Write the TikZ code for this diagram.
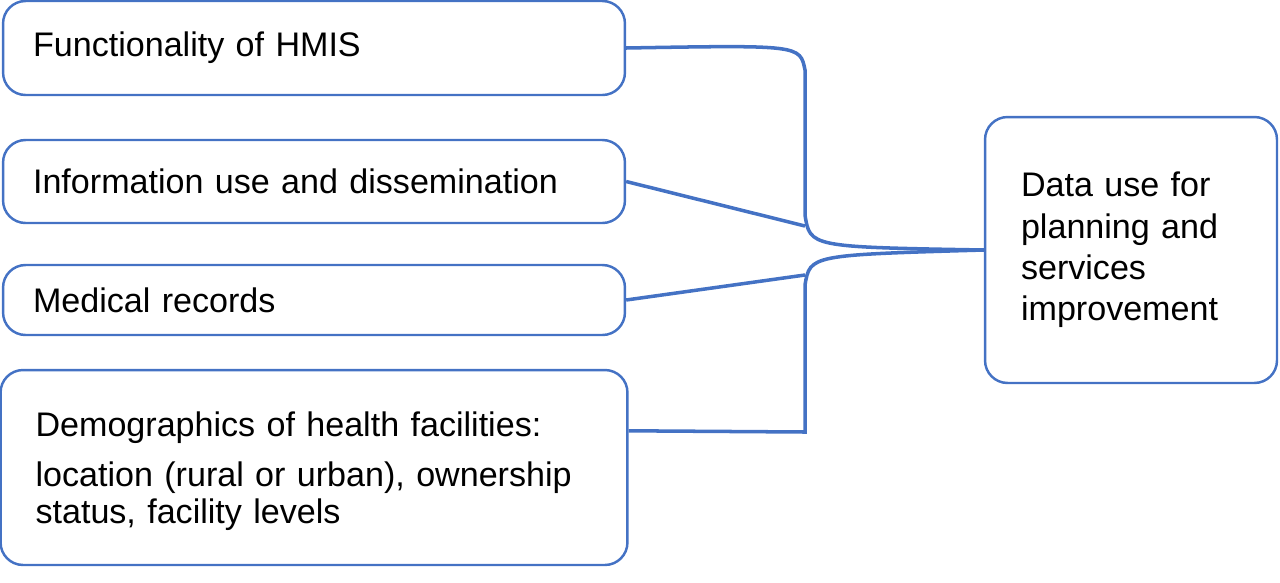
\documentclass[tikz,border=0pt]{standalone}
\usepackage{fontspec}
\setmainfont{Liberation Sans}
\usetikzlibrary{calc}
\definecolor{mblue}{RGB}{68,114,196}
\tikzset{box/.style = {draw=mblue, line width=1.4pt, rounded corners=0.45cm, align=left, inner xsep=0.6cm, font=\fontsize{19.4}{21}\selectfont},
  conn/.style = {draw=mblue, line width=2pt}}

\begin{document}
\begin{tikzpicture}[x=0.02cm, y=-0.02cm]
      \useasboundingbox (0, 0) rectangle (1280, 582);

      \node [box, text width=11.24cm, minimum height=1.88cm] (fun) at (314, 48) {Functionality of HMIS};
      \node [box, text width=11.24cm, minimum height=1.66cm] (inf) at (314, 181.5) {Information use and dissemination};
      \node [box, text width=11.24cm, minimum height=1.4cm] (med) at (314, 300) {Medical records};
      \node [box, text width=11.14cm, minimum height=3.9cm, inner xsep=0.7cm] (dem) at (314, 467.5)
        {\\[-0.1cm] Demographics of health facilities:\\[0.25cm] location (rural or urban), ownership\\ status, facility levels};
      \node [box, text width=4.4cm, minimum width=5.84cm, minimum height=5.32cm, inner xsep=0.72cm,
        font=\fontsize{19.4}{23.5}\selectfont] (ctr) at (1131, 250)
        {Data use for\\ planning and\\ services\\ improvement\\[0.76cm]};

      \coordinate (dj) at ($(dem.north east)+(0, 62)$);
      \draw [conn] (fun.east) .. controls (800, 45) .. (805, 70) -- (805, 215) .. controls (810, 247) .. (ctr.west);
      \draw [conn] (dj) -- (805, 432) -- (805, 285) .. controls (810, 255) .. (ctr.west);
      \draw [conn] (inf.east) -- (805, 226);
      \draw [conn] (med.east) -- (805, 275);
    \end{tikzpicture}
\end{document}
